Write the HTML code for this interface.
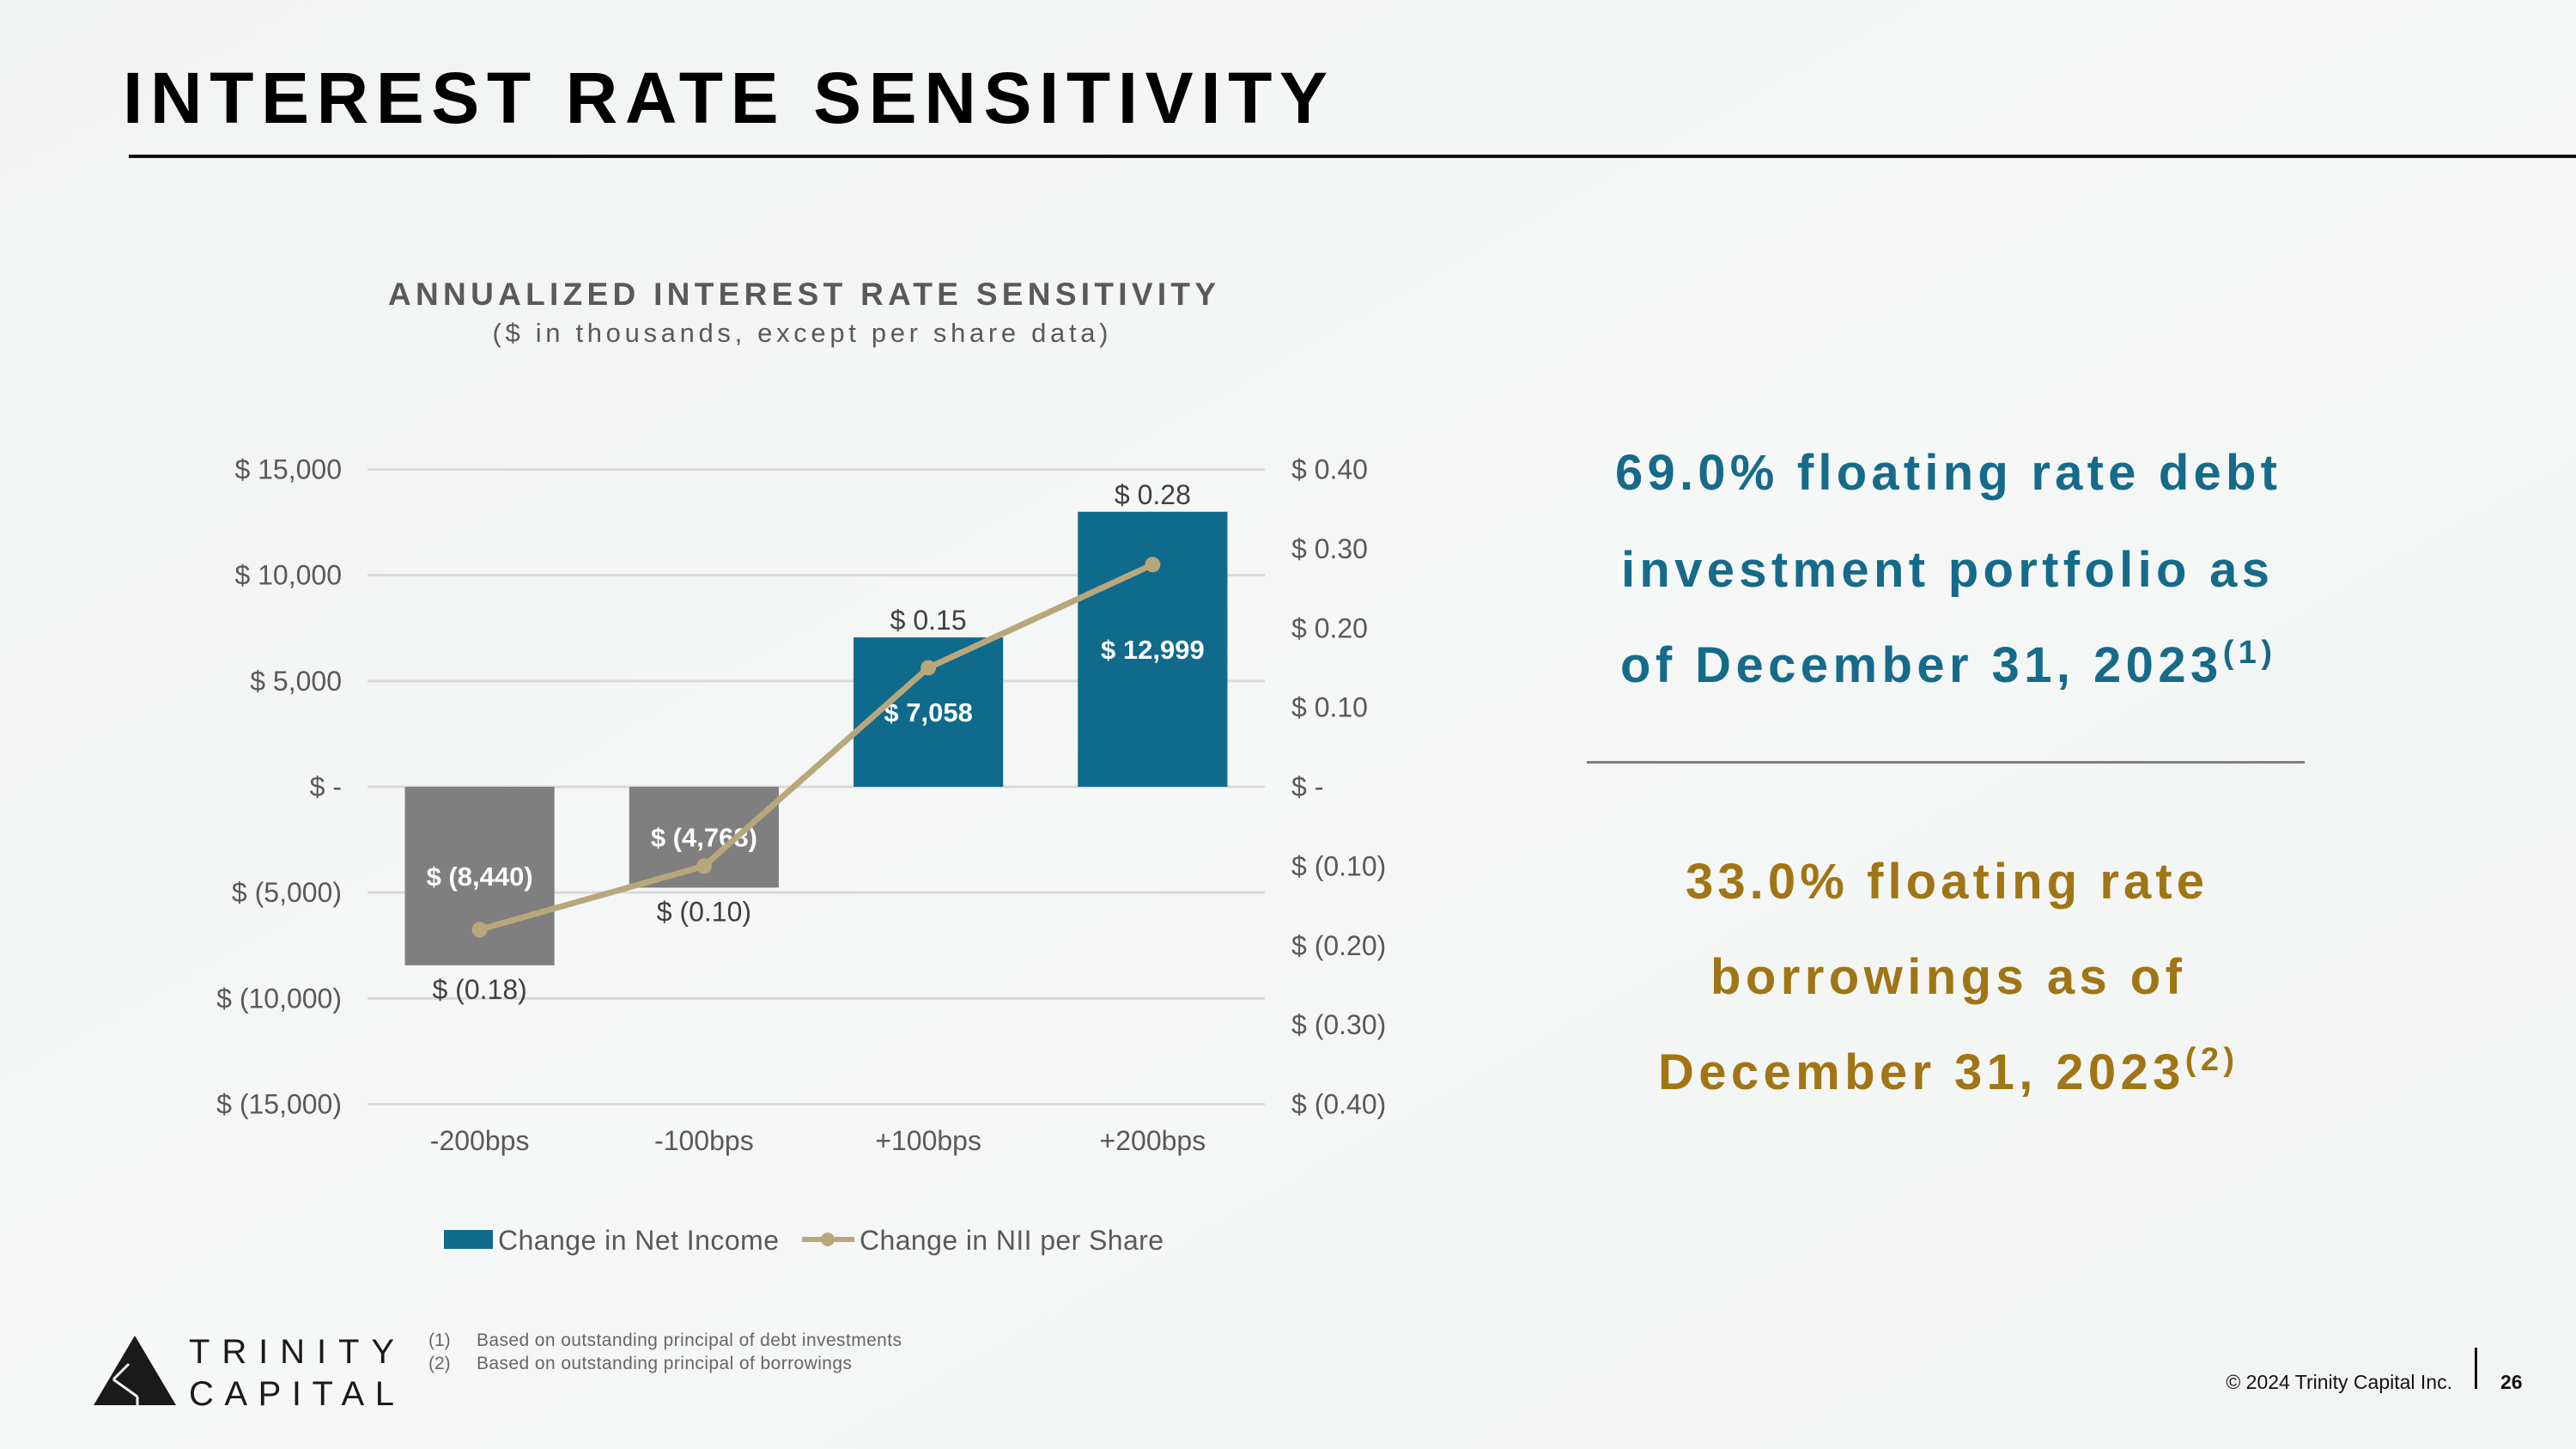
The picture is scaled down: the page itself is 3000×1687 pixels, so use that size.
<!DOCTYPE html>
<html><head><meta charset="utf-8"><style>
html,body{margin:0;padding:0;background:#f4f5f5;}
svg{display:block;font-family:"Liberation Sans",Arial,sans-serif;}
</style></head><body>
<svg id="s" width="3000" height="1687" viewBox="0 0 3000 1687" xmlns="http://www.w3.org/2000/svg">
<defs><linearGradient id="bg" x1="0" y1="0" x2="1" y2="1"><stop offset="0" stop-color="#f1f2f2"/><stop offset="0.5" stop-color="#f6f7f7"/><stop offset="1" stop-color="#f2f3f3"/></linearGradient></defs>
<rect width="3000" height="1687" fill="url(#bg)"/>
<text x="143" y="143" font-size="84" font-weight="bold" fill="#000" textLength="1403" lengthAdjust="spacing">INTEREST RATE SENSITIVITY</text>
<rect x="150" y="180" width="2850" height="4" fill="#111"/>
<text x="934" y="355" font-size="37" font-weight="bold" fill="#595959" text-anchor="middle" textLength="964" lengthAdjust="spacing">ANNUALIZED INTEREST RATE SENSITIVITY</text>
<text x="932" y="398" font-size="31" fill="#595959" text-anchor="middle" textLength="717" lengthAdjust="spacing">($ in thousands, except per share data)</text>
<g id="chart"></g>
<g>
<rect x="517" y="1432" width="57" height="22" fill="#0f6a8b"/>
<text x="580" y="1455" font-size="32" fill="#595959" textLength="327" lengthAdjust="spacing">Change in Net Income</text>
<line x1="934" y1="1443" x2="995" y2="1443" stroke="#b9a77c" stroke-width="6"/>
<circle cx="964" cy="1443" r="8" fill="#b9a77c"/>
<text x="1001" y="1455" font-size="32" fill="#595959" textLength="354" lengthAdjust="spacing">Change in NII per Share</text>
</g>
<g font-size="58" font-weight="bold" fill="#156b89">
<text x="1881" y="570" textLength="771" lengthAdjust="spacing">69.0% floating rate debt</text>
<text x="1888" y="683" textLength="755" lengthAdjust="spacing">investment portfolio as</text>
<text x="1887" y="794" textLength="759" lengthAdjust="spacing">of December 31, 2023<tspan font-size="38" dy="-22">(1)</tspan></text>
</g>
<rect x="1848" y="886" width="836" height="3" fill="#7f7f7f"/>
<g font-size="58" font-weight="bold" fill="#a07513">
<text x="1963" y="1046" textLength="604" lengthAdjust="spacing">33.0% floating rate</text>
<text x="1992" y="1157" textLength="549" lengthAdjust="spacing">borrowings as of</text>
<text x="1931" y="1268" textLength="671" lengthAdjust="spacing">December 31, 2023<tspan font-size="38" dy="-22">(2)</tspan></text>
</g>
<g>
<polygon points="157,1555 109,1636 205,1636" fill="#1a1a1a"/>
<line x1="150" y1="1588" x2="132" y2="1606" stroke="#f4f5f5" stroke-width="3"/>
<line x1="132" y1="1606" x2="160" y2="1626" stroke="#f4f5f5" stroke-width="3"/>
<line x1="160" y1="1636" x2="160" y2="1626" stroke="#f4f5f5" stroke-width="3"/>
<text x="220" y="1587" font-size="40" fill="#1a1a1a" textLength="239" lengthAdjust="spacing">TRINITY</text>
<text x="220" y="1636" font-size="40" fill="#1a1a1a" textLength="239" lengthAdjust="spacing">CAPITAL</text>
</g>
<g font-size="21" fill="#666">
<text x="499" y="1567">(1)</text>
<text x="555" y="1567" textLength="495" lengthAdjust="spacing">Based on outstanding principal of debt investments</text>
<text x="499" y="1594">(2)</text>
<text x="555" y="1594" textLength="437" lengthAdjust="spacing">Based on outstanding principal of borrowings</text>
</g>
<text x="2856" y="1617" font-size="23" fill="#111" text-anchor="end">© 2024 Trinity Capital Inc.</text>
<rect x="2882" y="1569" width="3" height="48" fill="#111"/>
<text x="2912" y="1617" font-size="23" font-weight="bold" fill="#111">26</text>
</svg>
<script>
const categories = ["-200bps","-100bps","+100bps","+200bps"];
const netIncome = [-8440,-4768,7058,12999];
const netIncomeLabels = ["$ (8,440)","$ (4,768)","$ 7,058","$ 12,999"];
const niiPerShare = [-0.18,-0.10,0.15,0.28];
const niiLabels = ["$ (0.18)","$ (0.10)","$ 0.15","$ 0.28"];
const leftTicks = [15000,10000,5000,0,-5000,-10000,-15000];
const leftTickLabels = ["$ 15,000","$ 10,000","$ 5,000","$ -","$ (5,000)","$ (10,000)","$ (15,000)"];
const rightTicks = [0.4,0.3,0.2,0.1,0,-0.1,-0.2,-0.3,-0.4];
const rightTickLabels = ["$ 0.40","$ 0.30","$ 0.20","$ 0.10","$ -","$ (0.10)","$ (0.20)","$ (0.30)","$ (0.40)"];

const NS="http://www.w3.org/2000/svg";
const g=document.getElementById('chart');
const X0=428,X1=1473,Y0=916;
const yL=v=>Y0-v*(1286-547)/30000;
const yR=v=>Y0-v*(1286-547)/0.8;
const band=(X1-X0)/categories.length;
const xc=i=>X0+band*(i+0.5);
const bw=band*2/3;
function mk(t,a,parent){const e=document.createElementNS(NS,t);for(const k in a)e.setAttribute(k,a[k]);(parent||g).appendChild(e);return e;}
leftTicks.forEach((v,i)=>{
  const l=mk('line',{x1:X0,x2:X1,y1:yL(v),y2:yL(v),stroke:'#d9d9d9','stroke-width':3});
  
  
  const t=mk('text',{x:398,y:yL(v)+11,'font-size':32,fill:'#595959','text-anchor':'end'});
  t.textContent=leftTickLabels[i];
  
  
});
rightTicks.forEach((v,i)=>{
  const t=mk('text',{x:1504,y:yR(v)+11,'font-size':32,fill:'#595959'});
  t.textContent=rightTickLabels[i];
  
  
});
categories.forEach((c,i)=>{
  const v=netIncome[i];
  const top=Math.min(yL(v),Y0),h=Math.abs(yL(v)-Y0);
  const r=mk('rect',{x:xc(i)-bw/2,y:top,width:bw,height:h,fill:v<0?'#7f7f7f':'#0f6a8b'});
  
  
  const t=mk('text',{x:xc(i),y:top+h/2+11,'font-size':31,'font-weight':'bold',fill:'#fff','text-anchor':'middle'});
  t.textContent=netIncomeLabels[i];
  
  
  const ny=v>=0?top-20+11:top+h+28+11;
  const t2=mk('text',{x:xc(i),y:ny,'font-size':32,fill:'#404040','text-anchor':'middle'});
  t2.textContent=niiLabels[i];
  
  
  const t3=mk('text',{x:xc(i),y:1339,'font-size':32,fill:'#595959','text-anchor':'middle'});
  t3.textContent=c;
  
  
});
const pts=niiPerShare.map((v,i)=>xc(i)+','+yR(v)).join(' ');
const pl=mk('polyline',{points:pts,fill:'none',stroke:'#b9a77c','stroke-width':7,'stroke-linejoin':'round'});


niiPerShare.forEach((v,i)=>{
  const c=mk('circle',{cx:xc(i),cy:yR(v),r:9,fill:'#b9a77c'});
  
  
});
</script>
</body></html>
